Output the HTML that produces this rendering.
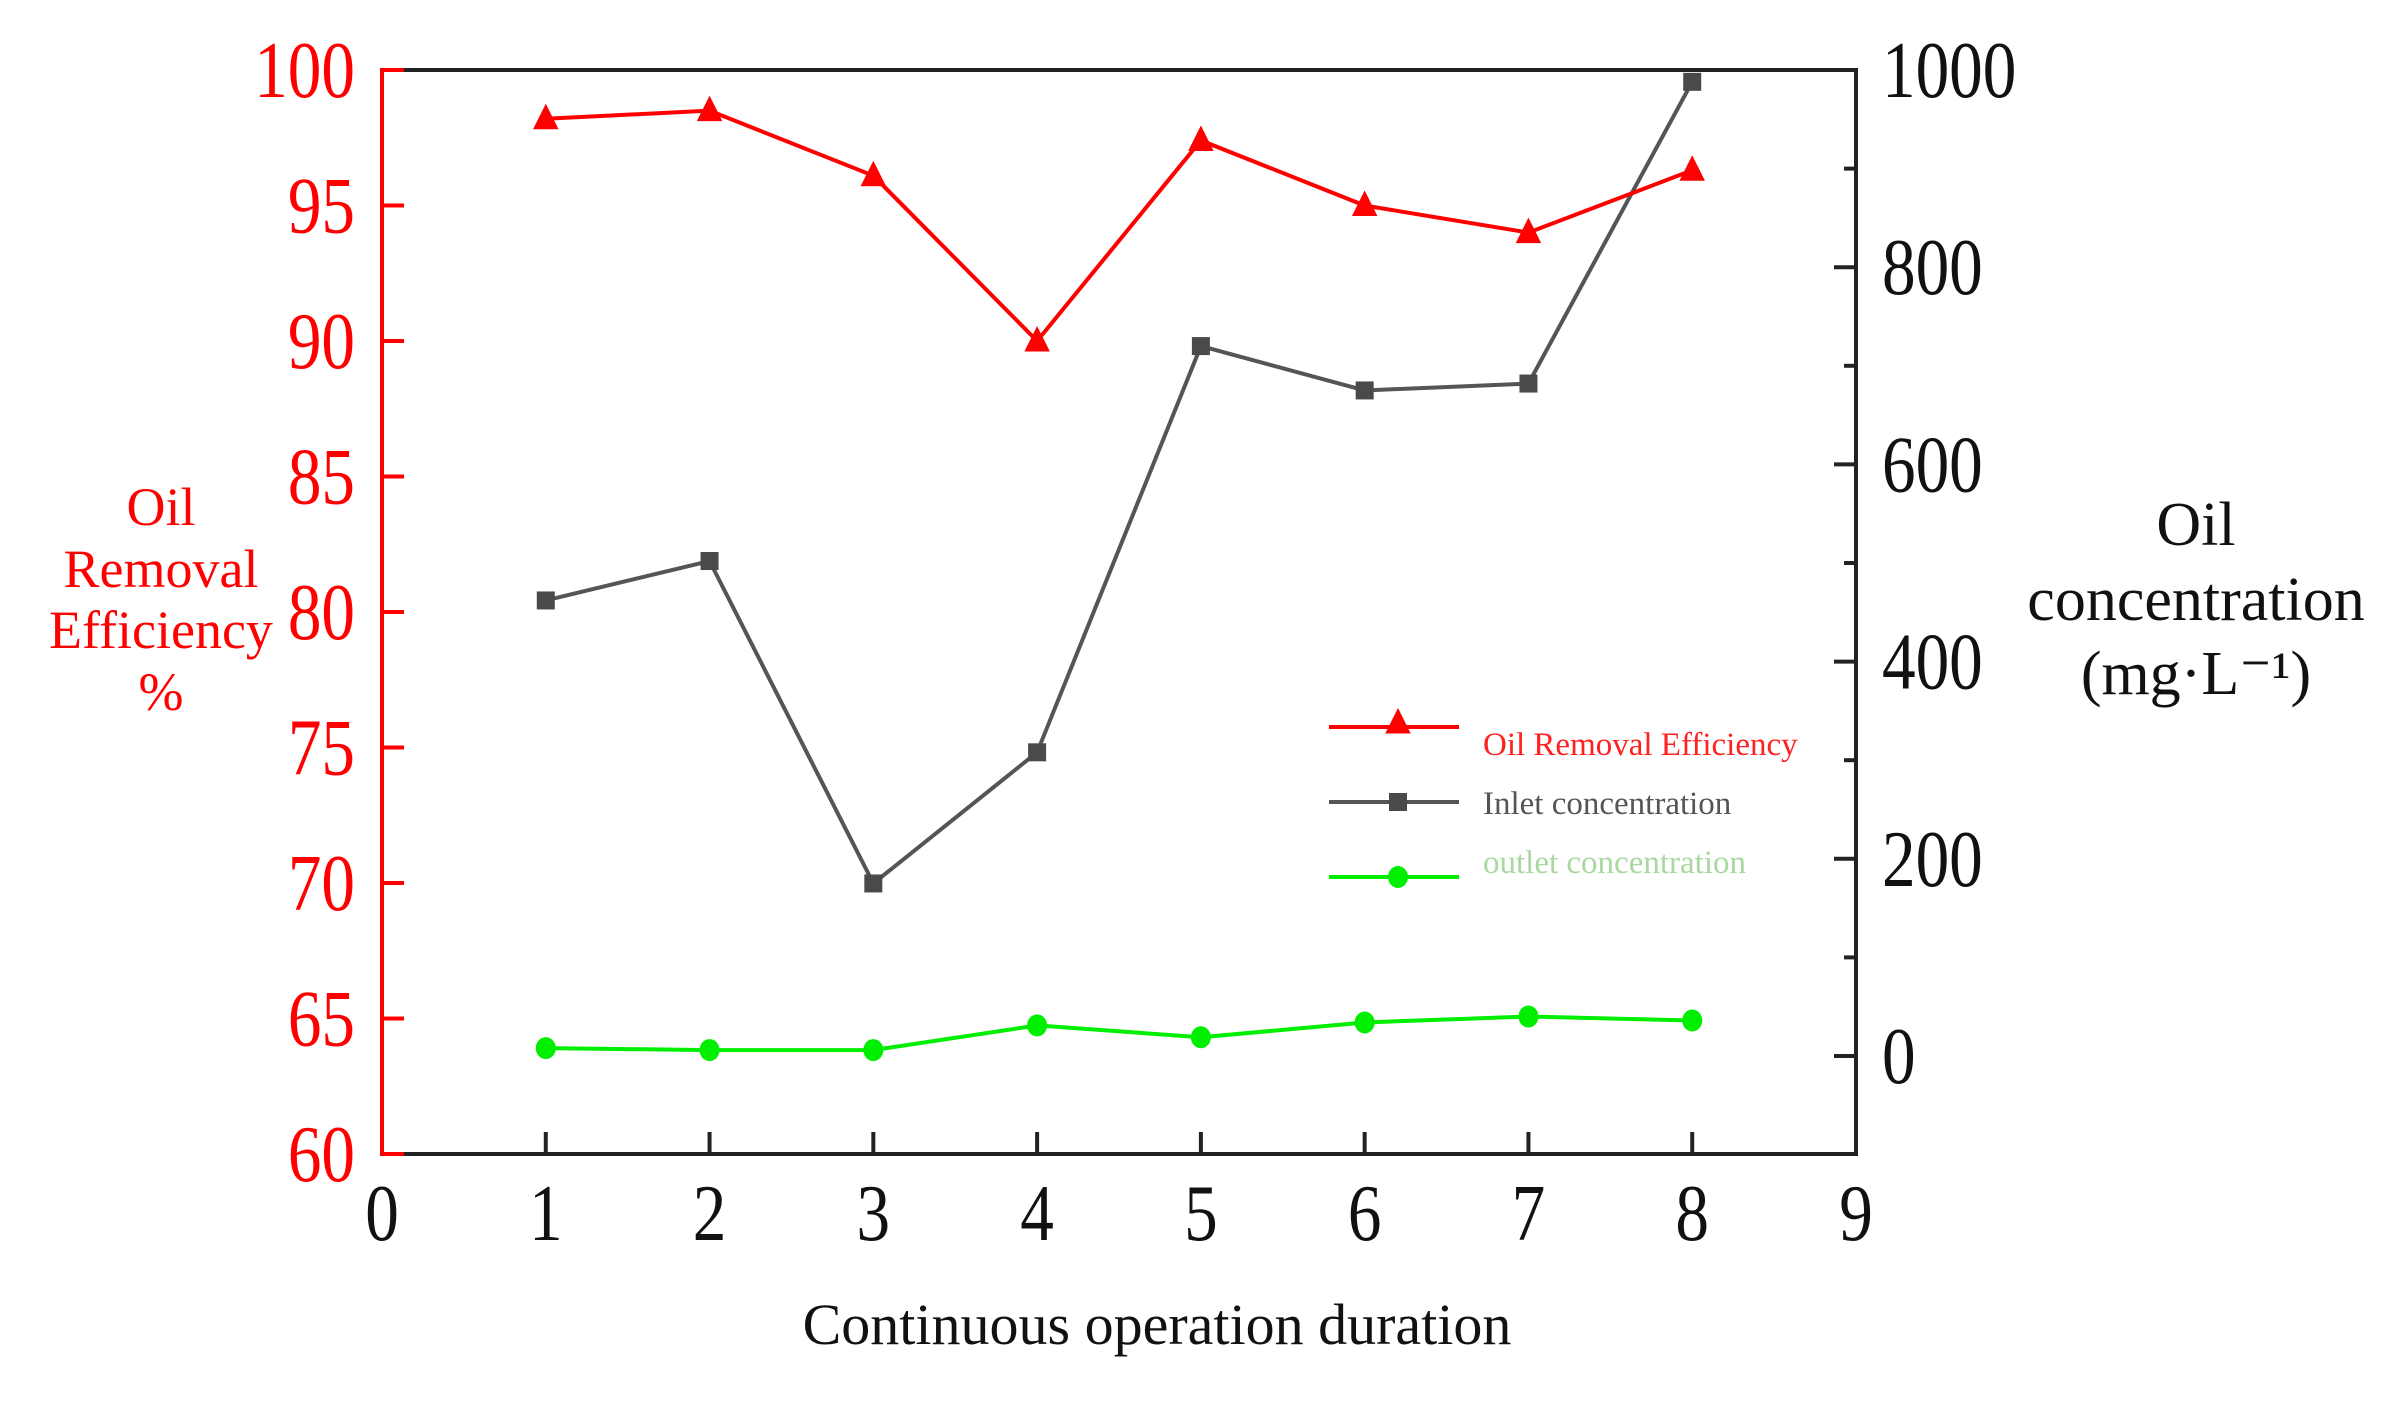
<!DOCTYPE html>
<html><head><meta charset="utf-8">
<style>
html,body{margin:0;padding:0;background:#fff;}
svg{display:block;font-family:"Liberation Serif",serif;}
</style></head>
<body>
<svg id="chart" width="2387" height="1408" viewBox="0 0 2387 1408" xmlns="http://www.w3.org/2000/svg"></svg>
<script>
const categories = [1, 2, 3, 4, 5, 6, 7, 8];
const efficiency = [98.2, 98.5, 96.1, 90.0, 97.4, 95.0, 94.0, 96.3];
const inletConc = [462, 502, 175, 308, 720, 675, 682, 988];
const outletConc = [8, 6, 6, 31, 19, 34, 40, 36];
const xTicks = [0, 1, 2, 3, 4, 5, 6, 7, 8, 9];
const leftTicks = [60, 65, 70, 75, 80, 85, 90, 95, 100];
const rightTicks = [0, 200, 400, 600, 800, 1000];
const rightMinor = [100, 300, 500, 700, 900];

const L = 382, R = 1856, T = 70, B = 1154;
const xS = v => L + (v - 0) / 9 * (R - L);
const yL = v => B - (v - 60) / 40 * (B - T);
const R0 = 1056, R1000 = 70;
const yR = v => R0 - v / 1000 * (R0 - R1000);

const svg = document.getElementById('chart');
const NS = 'http://www.w3.org/2000/svg';
function mk(tag, attrs, parent) {
  const e = document.createElementNS(NS, tag);
  for (const k in attrs) e.setAttribute(k, attrs[k]);
  (parent || svg).appendChild(e);
  return e;
}
function tickText(x, y, anchor, color, str) {
  return mk('text', {x: 0, y: 0, transform: `translate(${x},${y}) scale(0.84,1)`, 'text-anchor': anchor, 'font-size': 80, fill: color});
}

let e;
e = mk('line', {x1: L, y1: T, x2: R, y2: T, stroke: '#222', 'stroke-width': 4});


e = mk('line', {x1: L, y1: B, x2: R + 2, y2: B, stroke: '#222', 'stroke-width': 4});


e = mk('line', {x1: R, y1: T - 2, x2: R, y2: B + 2, stroke: '#222', 'stroke-width': 4});


e = mk('line', {x1: L, y1: T - 2, x2: L, y2: B + 2, stroke: '#ff0000', 'stroke-width': 4});



leftTicks.forEach(v => {
  const y = yL(v);
  const t = mk('line', {x1: L, y1: y, x2: L + 22, y2: y, stroke: '#ff0000', 'stroke-width': 4});
  
  
  const tx = tickText(355, y + 27, 'end', '#ff0000');
  tx.textContent = v;
  
  
});
rightTicks.forEach(v => {
  const y = yR(v);
  const t = mk('line', {x1: R - 22, y1: y, x2: R, y2: y, stroke: '#222', 'stroke-width': 4});
  
  
  const tx = tickText(1882, y + 27, 'start', '#111');
  tx.textContent = v;
  
  
});
rightMinor.forEach(v => {
  const y = yR(v);
  const t = mk('line', {x1: R - 12, y1: y, x2: R, y2: y, stroke: '#222', 'stroke-width': 4});
  
  
});
xTicks.forEach(v => {
  const x = xS(v);
  if (v > 0 && v < 9) {
    const t = mk('line', {x1: x, y1: B, x2: x, y2: B - 22, stroke: '#222', 'stroke-width': 4});
    
    
  }
  const tx = tickText(x, 1240, 'middle', '#111');
  tx.textContent = v;
  
  
});

function polyline(vals, yf, color, name) {
  const pts = vals.map((v, i) => xS(categories[i]) + ',' + yf(v)).join(' ');
  const p = mk('polyline', {points: pts, fill: 'none', stroke: color, 'stroke-width': 4});
  
  
}
polyline(inletConc, yR, '#555555', 'inlet-line');
polyline(outletConc, yR, '#00ee00', 'outlet-line');
polyline(efficiency, yL, '#ff0000', 'efficiency-line');

function tri(x, y, s, color, parent) {
  return mk('polygon', {points: `${x},${y - s} ${x - s * 0.85},${y + s * 0.7} ${x + s * 0.85},${y + s * 0.7}`, fill: color}, parent);
}
efficiency.forEach((v, i) => {
  const m = tri(xS(categories[i]), yL(v), 15, '#ff0000');
  
  
});
inletConc.forEach((v, i) => {
  const x = xS(categories[i]), y = yR(v);
  const m = mk('rect', {x: x - 9, y: y - 9, width: 18, height: 18, fill: '#4a4a4a'});
  
  
});
outletConc.forEach((v, i) => {
  const x = xS(categories[i]), y = yR(v);
  const m = mk('ellipse', {cx: x, cy: y, rx: 10, ry: 11, fill: '#00ee00'});
  
  
});

const leg = mk('g', {});


const legendItems = [
  {label: 'Oil Removal Efficiency', color: '#ff0000', text: '#ff2020', y: 727, ty: 755, m: 'tri'},
  {label: 'Inlet concentration', color: '#555555', text: '#555555', y: 802, ty: 814, m: 'sq'},
  {label: 'outlet concentration', color: '#00ee00', text: '#a8d8a0', y: 877, ty: 873, m: 'ci'}
];
legendItems.forEach(it => {
  const l = mk('line', {x1: 1329, y1: it.y, x2: 1459, y2: it.y, stroke: it.color, 'stroke-width': 4}, leg);
  
  
  let m;
  if (it.m === 'tri') m = tri(1398, it.y - 4, 15, it.color, leg);
  else if (it.m === 'sq') m = mk('rect', {x: 1389, y: it.y - 9, width: 18, height: 18, fill: '#4a4a4a'}, leg);
  else m = mk('ellipse', {cx: 1398, cy: it.y, rx: 10, ry: 11, fill: it.color}, leg);
  
  
  const t = mk('text', {x: 1483, y: it.ty, 'font-size': 33, fill: it.text}, leg);
  t.textContent = it.label;
  
  
});

const lt = mk('text', {x: 161, y: 525, 'text-anchor': 'middle', 'font-size': 54, fill: '#ff0000'});


[['Oil', 525], ['Removal', 587], ['Efficiency', 648], ['%', 710]].forEach(([s, y]) => {
  const ts = mk('tspan', {x: 161, y: y}, lt); ts.textContent = s;
});
const rt = mk('text', {x: 2196, y: 545, 'text-anchor': 'middle', 'font-size': 62, fill: '#111'});


[['Oil', 545], ['concentration', 620], ['(mg·L⁻¹)', 694]].forEach(([s, y]) => {
  const ts = mk('tspan', {x: 2196, y: y}, rt); ts.textContent = s;
});
const xt = mk('text', {x: 1157, y: 1344, 'text-anchor': 'middle', 'font-size': 58, fill: '#111'});
xt.textContent = 'Continuous operation duration';


</script>
</body></html>
